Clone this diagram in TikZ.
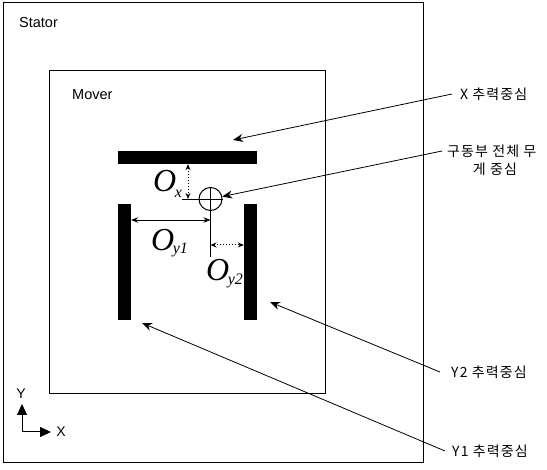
\documentclass[tikz,border=0pt]{standalone}
\usepackage{fontspec}
\setmainfont{Liberation Sans}
\newfontfamily\krfont[LetterSpace=8]{Noto Sans CJK KR}
\newfontfamily\oserif{Liberation Serif}
\usetikzlibrary{arrows.meta,calc}
\newcommand{\Olab}[2]{{\oserif\itshape\fontsize{32}{33}\selectfont O}\kern-1.5pt\raisebox{#1}{\oserif\itshape\fontsize{16}{17}\selectfont #2}}
\begin{document}
\begin{tikzpicture}[x=1pt,y=-1pt,
  box/.style={draw, line width=1pt},
  bar/.style={fill=black, draw=none, inner sep=0pt},
  lab/.style={anchor=west, inner xsep=8pt, inner ysep=0pt, font=\krfont\fontsize{14}{17}\selectfont},
  callout/.style={line width=0.8pt, -{Stealth[length=10pt,width=8pt]}},
  dimsolid/.style={line width=0.8pt, {Stealth[length=7pt,width=5.5pt]}-{Stealth[length=7pt,width=5.5pt]}},
  dimdot/.style={line width=1pt, dotted, {Stealth[length=6pt,width=5pt]}-{Stealth[length=6pt,width=5pt]}},
  axarr/.style={line width=1pt, -{Triangle[length=11pt,width=10pt]}},
  title/.style={anchor=west, inner sep=0pt, font=\fontsize{14.5}{16}\selectfont},
  thin/.style={line width=0.8pt}]
\useasboundingbox (0,0) rectangle (547,470);
% frames
\draw[box] (3,3) rectangle (423,463);
\draw[box] (49,71) rectangle (325,394);
\node[title] (stator) at (19,23) {Stator};
\node[title] (mover) at (72,95) {Mover};
% bars
\node[bar, minimum width=139pt, minimum height=13pt] (tbar) at (187.5,157.5) {};
\node[bar, minimum width=13pt, minimum height=116pt] (lbar) at (124.5,262) {};
\node[bar, minimum width=13pt, minimum height=116pt] (rbar) at (250.5,262) {};
% centre of gravity
\node[draw, circle, minimum size=23pt, inner sep=0pt, line width=1pt] (cg) at (210.5,199) {};
\draw[thin] (cg.north) -- (cg.south) (cg.west) -- (cg.east);
% O_x
\coordinate (oxb) at (188,199);
\coordinate (oxt) at (182,199);
\draw[dimdot] (tbar.south -| oxb) -- (oxb);
\draw[thin] (oxt) -- (cg.west);
% vertical reference line
\coordinate (vend) at (210.5,257);
\draw[thin] (cg.south) -- (vend);
% O_y1
\coordinate (oy1) at (210.5,220);
\draw[dimsolid] (lbar.east |- oy1) -- (oy1);
% O_y2
\coordinate (oy2) at (210.5,245);
\draw[dimdot] (oy2) -- (rbar.west |- oy2);
% O labels
\node[anchor=base west, inner sep=0pt] (oxl) at (153,192) {\Olab{-6pt}{x}};
\node[anchor=base west, inner sep=0pt] (oy1l) at (151,251) {\Olab{-3pt}{y1}};
\node[anchor=base west, inner sep=0pt] (oy2l) at (206,281) {\Olab{-4pt}{y2}};
% callout labels
\node[lab] (xl) at (452,94) {X 추력중심};
\node[lab, inner xsep=5pt] (cg1) at (442,151) {구동부 전체 무};
\node[inner sep=0pt, font=\krfont\fontsize{14}{17}\selectfont] (cg2) at (495,169) {게 중심};
\node[lab, inner xsep=11pt] (y2l) at (440,372) {Y2 추력중심};
\node[lab, inner xsep=7pt] (y1l) at (445,451) {Y1 추력중심};
\coordinate (xtip) at (233,140);
\coordinate (y2tip) at (270,302);
\coordinate (y1tip) at (142,323);
\draw[callout] (xl.west) -- (xtip);
\draw[callout] (cg1.west) -- (cg);
\draw[callout] (y2l.west) -- (y2tip);
\draw[callout] (y1l.west) -- (y1tip);
% axes
\coordinate (ax0) at (22,432);
\coordinate (aytip) at (22,404);
\coordinate (axtip) at (51,432);
\draw[axarr] (ax0) -- (aytip);
\draw[axarr] (ax0) -- (axtip);
\node[inner sep=0pt, font=\fontsize{14}{16}\selectfont] (ylab) at (21,394) {Y};
\node[inner sep=0pt, font=\fontsize{14}{16}\selectfont] (xlab) at (61,432) {X};
\end{tikzpicture}
\end{document}
